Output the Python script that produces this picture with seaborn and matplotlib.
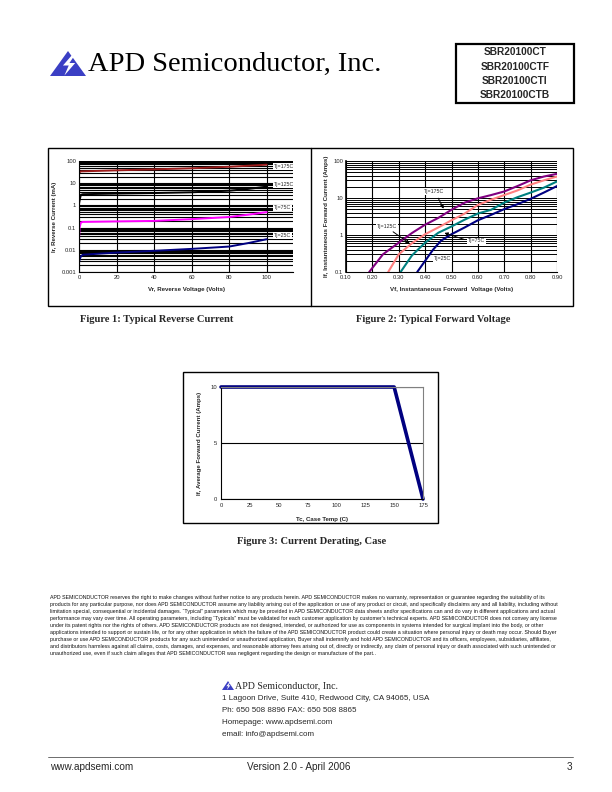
import numpy as np
import pandas as pd
import matplotlib
matplotlib.use("Agg")
import matplotlib.pyplot as plt
import seaborn as sns
from matplotlib.patches import Polygon, Rectangle
from matplotlib.lines import Line2D
from matplotlib.ticker import LogLocator, FixedLocator, NullFormatter

# ---------------- data ----------------
# Figure 1: reverse current vs reverse voltage
vr_175 = [0, 1, 20, 40, 60, 80, 100]
ir_175 = [30, 34, 38, 42, 47, 55, 68]
vr_125 = [0, 0.5, 1, 2, 20, 40, 60, 80, 90, 100]
ir_125 = [1.2, 2.0, 3.0, 3.2, 3.4, 3.6, 3.9, 4.6, 5.5, 7.0]
vr_75 = [0, 0.3, 1, 2, 20, 40, 60, 80, 90, 100]
ir_75 = [0.03, 0.1, 0.17, 0.18, 0.19, 0.2, 0.24, 0.3, 0.38, 0.5]
vr_25 = [0, 0.5, 1, 2, 20, 40, 60, 80, 90, 100]
ir_25 = [0.0028, 0.004, 0.005, 0.006, 0.0075, 0.009, 0.011, 0.014, 0.02, 0.03]
fig1_xticks = [0, 20, 40, 60, 80, 100]
fig1_yticks = [0.001, 0.01, 0.1, 1, 10, 100]
fig1_ytick_labels = ["0.001", "0.01", "0.1", "1", "10", "100"]
fig1_labels = ["Tj=175C", "Tj=125C", "Tj=75C", "Tj=25C"]
fig1_label_y = [56, 8.5, 0.77, 0.045]

# Figure 2: forward current vs forward voltage
vf_175 = [0.188, 0.24, 0.30, 0.35, 0.40, 0.45, 0.50, 0.55, 0.60, 0.65, 0.70, 0.75, 0.80, 0.85, 0.90]
if_175 = [0.1, 0.3, 0.62, 1.13, 1.9, 2.9, 4.8, 7.5, 9.8, 12, 15, 21, 30, 38, 45]
vf_125 = [0.26, 0.30, 0.35, 0.40, 0.45, 0.50, 0.55, 0.60, 0.65, 0.70, 0.75, 0.80, 0.85, 0.90]
if_125 = [0.1, 0.3, 0.6, 1.05, 1.6, 2.5, 3.8, 6.5, 9, 12, 16, 23, 30, 38]
vf_75 = [0.307, 0.35, 0.40, 0.45, 0.50, 0.55, 0.60, 0.65, 0.70, 0.75, 0.80, 0.85, 0.90]
if_75 = [0.1, 0.28, 0.62, 1.15, 1.7, 2.6, 3.8, 4.8, 7.5, 10.5, 14, 19, 28]
vf_25 = [0.37, 0.40, 0.43, 0.46, 0.50, 0.55, 0.60, 0.65, 0.70, 0.75, 0.80, 0.85, 0.90]
if_25 = [0.1, 0.2, 0.4, 0.7, 1.05, 1.6, 2.5, 3.5, 5, 6.8, 9.5, 14, 21]
fig2_xticks = [0.10, 0.20, 0.30, 0.40, 0.50, 0.60, 0.70, 0.80, 0.90]
fig2_yticks = [0.1, 1, 10, 100]
fig2_ytick_labels = ["0.1", "1", "10", "100"]

# Figure 3: derating
tc = [0, 150, 175]
if_avg = [10, 10, 0]
fig3_xticks = [0, 25, 50, 75, 100, 125, 150, 175]
fig3_yticks = [0, 5, 10]

part_numbers = ["SBR20100CT", "SBR20100CTF", "SBR20100CTI", "SBR20100CTB"]
disclaimer = [
    "APD SEMICONDUCTOR reserves the right to make changes without further notice to any products herein. APD SEMICONDUCTOR makes no warranty, representation or guarantee regarding the suitability of its",
    "products for any particular purpose, nor does APD SEMICONDUCTOR assume any liability arising out of the application or use of any product or circuit, and specifically disclaims any and all liability, including without",
    "limitation special, consequential or incidental damages. \u201cTypical\u201d parameters which may be provided in APD SEMICONDUCTOR data sheets and/or specifications can and do vary in different applications and actual",
    "performance may vary over time. All operating parameters, including \u201cTypicals\u201d must be validated for each customer application by customer\u2019s technical experts. APD SEMICONDUCTOR does not convey any license",
    "under its patent rights nor the rights of others. APD SEMICONDUCTOR products are not designed, intended, or authorized for use as components in systems intended for surgical implant into the body, or other",
    "applications intended to support or sustain life, or for any other application in which the failure of the APD SEMICONDUCTOR product could create a situation where personal injury or death may occur. Should Buyer",
    "purchase or use APD SEMICONDUCTOR products for any such unintended or unauthorized application, Buyer shall indemnify and hold APD SEMICONDUCTOR and its officers, employees, subsidiaries, affiliates,",
    "and distributors harmless against all claims, costs, damages, and expenses, and reasonable attorney fees arising out of, directly or indirectly, any claim of personal injury or death associated with such unintended or",
    "unauthorized use, even if such claim alleges that APD SEMICONDUCTOR was negligent regarding the design or manufacture of the part..",
]
address = [
    "1 Lagoon Drive, Suite 410, Redwood City, CA 94065, USA",
    "Ph: 650 508 8896 FAX: 650 508 8865",
    "Homepage: www.apdsemi.com",
    "email: info@apdsemi.com",
]

# ---------------- style ----------------
sns.set_theme(style="white")
plt.rcParams["font.family"] = ["Liberation Sans", "DejaVu Sans"]
plt.rcParams["axes.linewidth"] = 0.8

W, H = 612, 792
fig = plt.figure(figsize=(W / 100, H / 100), dpi=100)
fig.patch.set_facecolor("white")


def fx(x):
    return x / W


def fy(y):
    return 1 - y / H


def rect(l, t, r, b):
    return [fx(l), fy(b), (r - l) / W, (b - t) / H]


def ftext(x, y, s, **kw):
    return fig.text(fx(x), fy(y), s, **kw)


def fline(xs, ys, **kw):
    fig.add_artist(Line2D([fx(v) for v in xs], [fy(v) for v in ys], transform=fig.transFigure, **kw))


def logo(x0, y0, w, h):
    # blue triangle with a white lightning bolt
    tri = Polygon([(fx(x0), fy(y0 + h)), (fx(x0 + w / 2), fy(y0)), (fx(x0 + w), fy(y0 + h))],
                  closed=True, transform=fig.transFigure, facecolor="#3B3FC4", edgecolor="none")
    fig.add_artist(tri)
    bolt_pts = [(0.60, 0.18), (0.36, 0.58), (0.52, 0.58), (0.40, 0.98), (0.70, 0.48), (0.54, 0.48), (0.68, 0.18)]
    bolt = Polygon([(fx(x0 + px * w), fy(y0 + py * h)) for px, py in bolt_pts], closed=True,
                   transform=fig.transFigure, facecolor="white", edgecolor="none")
    fig.add_artist(bolt)


# ---------------- header ----------------
logo(50, 51, 36, 25)
ftext(88, 64, "APD Semiconductor, Inc.", family=["Liberation Serif", "DejaVu Serif"], fontsize=20.5,
      va="center", ha="left", color="black")
fig.add_artist(Rectangle((fx(456), fy(103)), 118 / W, 59 / H, transform=fig.transFigure,
                         facecolor="none", edgecolor="black", lw=1.6))
for i, pn in enumerate(part_numbers):
    ftext(515, 52 + i * 14.5, pn, fontsize=7.3, fontweight="bold", ha="center", va="center")

# figure frames
fig.add_artist(Rectangle((fx(48), fy(306)), (573 - 48) / W, (306 - 148) / H, transform=fig.transFigure,
                         facecolor="none", edgecolor="black", lw=1.0))
fline([311, 311], [148, 306], color="black", lw=1.0)
fig.add_artist(Rectangle((fx(183), fy(523)), (438 - 183) / W, (523 - 372) / H, transform=fig.transFigure,
                         facecolor="none", edgecolor="black", lw=1.0))

tick_fs = 4.2
lab_fs = 4.4

# ---------------- Figure 1 ----------------
ax1 = fig.add_axes(rect(79, 161, 293, 272))
ax1.set_yscale("log")
ax1.set_xlim(0, 114)
ax1.set_ylim(0.001, 100)
ax1.set_xticks(fig1_xticks)
ax1.set_xticklabels([str(v) for v in fig1_xticks])
ax1.set_yticks(fig1_yticks)
ax1.set_yticklabels(fig1_ytick_labels)
ax1.yaxis.set_minor_locator(LogLocator(base=10, subs=np.arange(2, 10)))
ax1.yaxis.set_minor_formatter(NullFormatter())
ax1.grid(True, which="both", axis="y", color="black", lw=0.8)
ax1.grid(True, which="major", axis="x", color="black", lw=0.8)
ax1.set_axisbelow(True)
series1 = [(vr_175, ir_175, "#9B1B1B"), (vr_125, ir_125, "black"), (vr_75, ir_75, "#FF00FF"), (vr_25, ir_25, "#000080")]
for xs, ys, c in series1:
    sns.lineplot(x=xs, y=ys, ax=ax1, color=c, lw=1.4, estimator=None, sort=False)
for lbl, yv in zip(fig1_labels, fig1_label_y):
    ax1.text(104, yv, lbl, fontsize=3.8, va="center", ha="left",
             bbox=dict(facecolor="white", edgecolor="none", pad=0.6))
ax1.tick_params(axis="both", which="both", length=0, labelsize=tick_fs, pad=2)
for s in ["top", "right"]:
    ax1.spines[s].set_visible(False)
for s in ["left", "bottom"]:
    ax1.spines[s].set_color("black")
ax1.set_xlabel("Vr, Reverse Voltage (Volts)", fontsize=lab_fs, fontweight="bold", labelpad=5)
ax1.set_ylabel("Ir, Reverse Current (mA)", fontsize=lab_fs, fontweight="bold", labelpad=3)

# ---------------- Figure 2 ----------------
ax2 = fig.add_axes(rect(346, 161, 557, 272))
ax2.set_yscale("log")
ax2.set_xlim(0.10, 0.90)
ax2.set_ylim(0.1, 100)
ax2.set_xticks(fig2_xticks)
ax2.set_xticklabels([f"{v:.2f}" for v in fig2_xticks])
ax2.set_yticks(fig2_yticks)
ax2.set_yticklabels(fig2_ytick_labels)
ax2.yaxis.set_minor_locator(LogLocator(base=10, subs=np.arange(2, 10)))
ax2.yaxis.set_minor_formatter(NullFormatter())
ax2.grid(True, which="both", axis="y", color="black", lw=0.7)
ax2.grid(True, which="major", axis="x", color="black", lw=0.8)
ax2.set_axisbelow(True)
series2 = [(vf_175, if_175, "#800080"), (vf_125, if_125, "#FF8080"), (vf_75, if_75, "#008080"), (vf_25, if_25, "#000080")]
for xs, ys, c in series2:
    sns.lineplot(x=xs, y=ys, ax=ax2, color=c, lw=1.5, estimator=None, sort=False)
arrow_kw = dict(arrowstyle="-|>", color="black", lw=0.7, mutation_scale=5)
ax2.text(0.435, 15, "Tj=175C", fontsize=3.8, ha="center", va="center",
         bbox=dict(facecolor="white", edgecolor="none", pad=0.6))
ax2.annotate("", xy=(0.475, 4.4), xytext=(0.445, 11.5), arrowprops=arrow_kw)
ax2.text(0.255, 1.72, "Tj=125C", fontsize=3.8, ha="center", va="center",
         bbox=dict(facecolor="white", edgecolor="none", pad=0.6))
ax2.annotate("", xy=(0.35, 0.53), xytext=(0.27, 1.35), arrowprops=arrow_kw)
ax2.text(0.595, 0.69, "Tj=75C", fontsize=3.8, ha="center", va="center",
         bbox=dict(facecolor="white", edgecolor="none", pad=0.6))
ax2.annotate("", xy=(0.463, 1.2), xytext=(0.558, 0.72), arrowprops=arrow_kw)
ax2.text(0.467, 0.23, "Tj=25C", fontsize=3.8, ha="center", va="center",
         bbox=dict(facecolor="white", edgecolor="none", pad=0.6))
ax2.tick_params(axis="both", which="both", length=0, labelsize=tick_fs, pad=2)
for s in ["top", "right"]:
    ax2.spines[s].set_visible(False)
ax2.spines["left"].set_linewidth(1.2)
ax2.spines["left"].set_color("black")
ax2.spines["bottom"].set_color("black")
ax2.set_xlabel("Vf, Instantaneous Forward  Voltage (Volts)", fontsize=lab_fs, fontweight="bold", labelpad=5)
ax2.set_ylabel("If, Instantaneous Forward Current (Amps)", fontsize=lab_fs, fontweight="bold", labelpad=3)

# ---------------- Figure 3 ----------------
ax3 = fig.add_axes(rect(221, 387, 423, 499))
ax3.set_xlim(0, 175)
ax3.set_ylim(0, 10)
ax3.set_xticks(fig3_xticks)
ax3.set_xticklabels([str(v) for v in fig3_xticks])
ax3.set_yticks(fig3_yticks)
ax3.set_yticklabels([str(v) for v in fig3_yticks])
ax3.grid(True, axis="y", color="black", lw=0.8)
ax3.grid(False, axis="x")
sns.lineplot(x=tc, y=if_avg, ax=ax3, color="#000080", lw=2.6, estimator=None, sort=False, clip_on=False)
ax3.tick_params(axis="both", length=0, labelsize=tick_fs, pad=3)
ax3.spines["left"].set_color("black")
ax3.spines["bottom"].set_color("black")
ax3.spines["top"].set_color("#808080")
ax3.spines["right"].set_color("#808080")
ax3.set_xlabel("Tc, Case Temp (C)", fontsize=lab_fs, fontweight="bold", labelpad=6)
ax3.set_ylabel("If, Average Forward Current (Amps)", fontsize=lab_fs, fontweight="bold", labelpad=6)

# ---------------- captions ----------------
serif = ["Liberation Serif", "DejaVu Serif"]
ftext(157, 320, "Figure 1: Typical Reverse Current", family=serif, fontsize=7.6, fontweight="bold",
      ha="center", va="center")
ftext(433, 320, "Figure 2: Typical Forward Voltage", family=serif, fontsize=7.6, fontweight="bold",
      ha="center", va="center")
ftext(312, 542, "Figure 3: Current Derating, Case", family=serif, fontsize=7.6, fontweight="bold",
      ha="center", va="center")

# ---------------- disclaimer ----------------
dis_texts = []
for i, line in enumerate(disclaimer):
    dis_texts.append(ftext(50, 598 + i * 6.9, line, fontsize=3.6, ha="left", va="center", color="#111111"))
fig.canvas.draw()
renderer = fig.canvas.get_renderer()
maxw = max(t.get_window_extent(renderer).width for t in dis_texts)
target = 510.0
for t in dis_texts:
    t.set_fontsize(3.6 * target / maxw)

# ---------------- address ----------------
logo(222, 681, 12, 9)
ftext(235, 686, "APD Semiconductor, Inc.", family=serif, fontsize=7.2, ha="left", va="center")
for i, line in enumerate(address):
    ftext(222, 698 + i * 12, line, fontsize=5.8, ha="left", va="center")

# ---------------- footer ----------------
fline([48, 573], [757, 757], color="#555555", lw=0.6)
ftext(50, 767, "www.apdsemi.com", fontsize=7.2, ha="left", va="center")
ftext(299, 767, "Version 2.0 - April 2006", fontsize=7.2, ha="center", va="center")
ftext(572, 767, "3", fontsize=7.2, ha="right", va="center")

fig.savefig("out.png", dpi=100, facecolor="white")
